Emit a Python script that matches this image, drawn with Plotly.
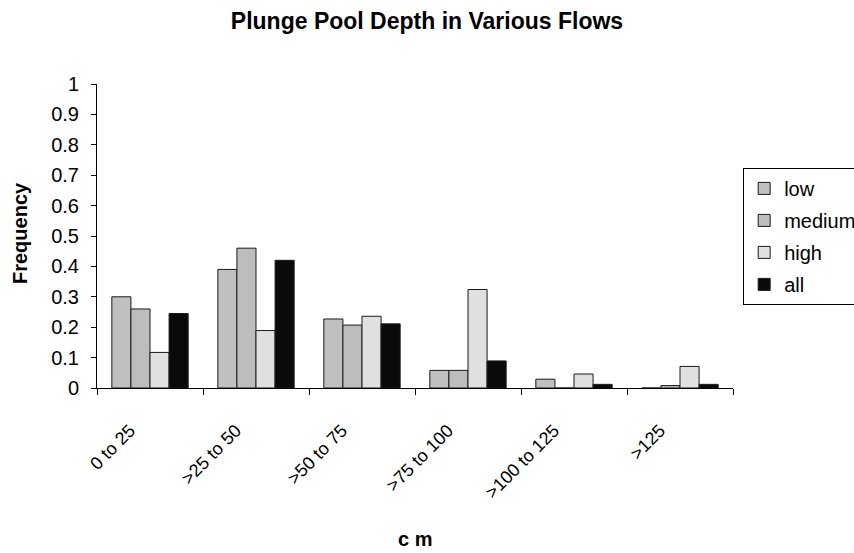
import plotly.graph_objects as go

categories = ['0 to 25', '>25 to 50', '>50 to 75', '>75 to 100', '>100 to 125', '>125']
low = [0.30, 0.39, 0.227, 0.058, 0.029, 0.0]
medium = [0.26, 0.46, 0.207, 0.058, 0.0, 0.008]
high = [0.117, 0.189, 0.236, 0.324, 0.046, 0.071]
all_flows = [0.245, 0.42, 0.211, 0.089, 0.012, 0.012]

series = [
    ('low', low, '#c0c0c0'),
    ('medium', medium, '#bdbdbd'),
    ('high', high, '#e0e0e0'),
    ('all', all_flows, '#0a0a0a'),
]

fig = go.Figure()
for name, vals, col in series:
    fig.add_trace(go.Bar(
        x=categories, y=vals, name=name, legendgroup=name,
        marker=dict(color=col, line=dict(color='#1a1a1a', width=1)),
    ))

fig.update_layout(
    width=854, height=553,
    paper_bgcolor='white', plot_bgcolor='white',
    margin=dict(l=97, r=121, t=84, b=165, autoexpand=False),
    barmode='group', bargap=0.28, bargroupgap=0,
    font=dict(family='Arial, Liberation Sans, sans-serif', color='black'),
    title=dict(text='<b>Plunge Pool Depth in Various Flows</b>',
               x=0.5, xref='container', xanchor='center',
               y=0.962, yref='container', yanchor='middle',
               font=dict(size=23, color='black')),
    legend=dict(x=1.016, xanchor='left', y=0.724, yanchor='top',
                bordercolor='black', borderwidth=1, bgcolor='white',
                font=dict(size=20), traceorder='grouped', tracegroupgap=3,
                itemwidth=30),
    showlegend=True,
)

fig.update_xaxes(
    type='category', showline=True, linecolor='black', linewidth=1,
    ticks='outside', tickson='boundaries', ticklen=6, tickcolor='black',
    tickangle=-45, tickfont=dict(size=18), showgrid=False,
    ticklabelstandoff=24, ticklabelshift=-20,
)
fig.update_yaxes(
    range=[0, 1], dtick=0.1, showline=True, linecolor='black', linewidth=1,
    ticks='outside', ticklen=5, tickcolor='black', showgrid=False,
    tickfont=dict(size=20), ticklabelstandoff=8, zeroline=False,
)

fig.add_annotation(text='<b>Frequency</b>', textangle=-90, showarrow=False,
                   xref='paper', yref='paper', x=-0.121, y=0.51,
                   xanchor='center', yanchor='middle', font=dict(size=20))
fig.add_annotation(text='<b>c m</b>', showarrow=False,
                   xref='paper', yref='paper', x=0.5, y=-0.497,
                   xanchor='center', yanchor='middle', font=dict(size=20))

# the page body has a default 8px margin; drop it so the chart sits at 0,0
fig.write_html('out.html', config={'displayModeBar': False},
               post_script="document.body.style.margin='0';")
